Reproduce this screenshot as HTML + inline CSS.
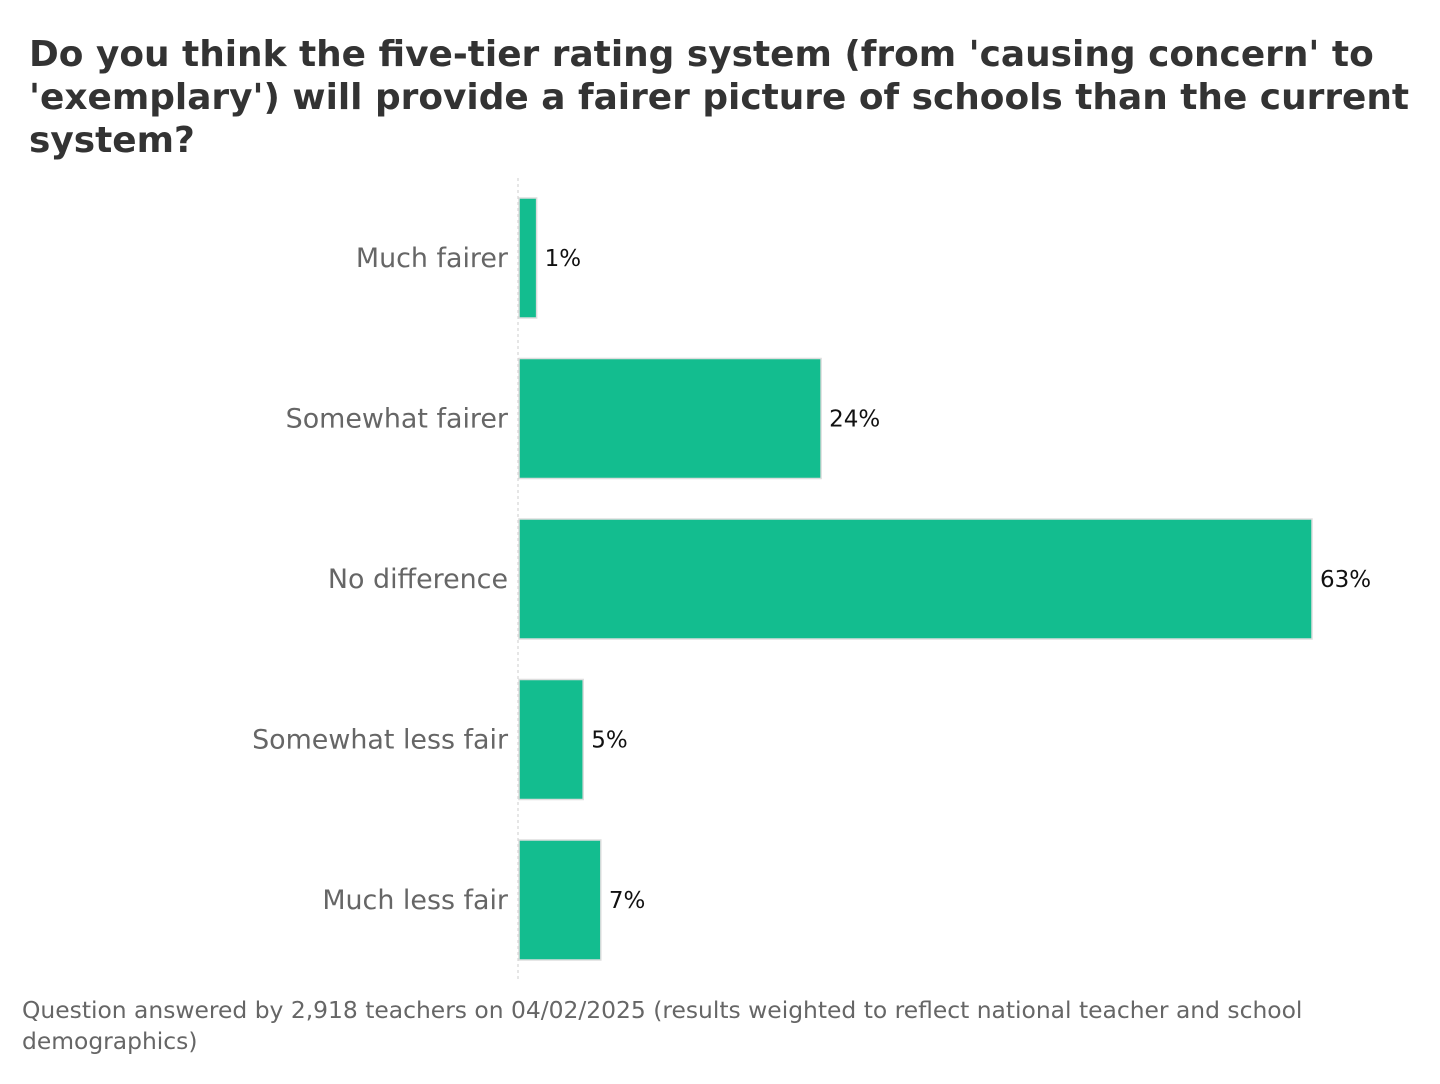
<!DOCTYPE html>
<html><head><meta charset="utf-8"><style>
body{margin:0;background:#fff;width:1440px;height:1080px;overflow:hidden;font-family:"DejaVu Sans","Liberation Sans",sans-serif}
</style></head><body>
<svg width="1440" height="1080">
<g font-weight="bold" font-size="35.9" fill="#333">
<text x="29" y="66">Do you think the five-tier rating system (from 'causing concern' to</text>
<text x="29" y="109">'exemplary') will provide a fairer picture of schools than the current</text>
<text x="29" y="152">system?</text>
</g>
<line x1="518" y1="178" x2="518" y2="980" stroke="#ccc" stroke-dasharray="3,3"/>
<g id="bars"></g>
<g font-size="23.4" fill="#666">
<text x="22" y="1018">Question answered by 2,918 teachers on 04/02/2025 (results weighted to reflect national teacher and school</text>
<text x="22" y="1049">demographics)</text>
</g>
</svg>
<script>
const categories=["Much fairer","Somewhat fairer","No difference","Somewhat less fair","Much less fair"];
const values=[1.4,24,63,5.1,6.5];
const valueLabels=["1%","24%","63%","5%","7%"];
const x0=519,scale=793/63,top0=198,pitch=160.5,bh=120;
const g=document.getElementById('bars');
const ns="http://www.w3.org/2000/svg";
categories.forEach((c,i)=>{
 const y=top0+i*pitch, w=values[i]*scale;
 const r=document.createElementNS(ns,'rect');
 r.setAttribute('x',x0);r.setAttribute('y',y);r.setAttribute('width',w);r.setAttribute('height',bh);
 r.setAttribute('fill','#13bd8f');r.setAttribute('stroke','#ddd');r.setAttribute('stroke-width','1.5');
 
 
 g.appendChild(r);
 const t=document.createElementNS(ns,'text');
 t.setAttribute('x',508);t.setAttribute('y',y+bh/2+9);t.setAttribute('text-anchor','end');
 t.setAttribute('font-size','26.9');t.setAttribute('fill','#666');t.textContent=c;
 
 
 g.appendChild(t);
 const v=document.createElementNS(ns,'text');
 v.setAttribute('x',x0+w+8);v.setAttribute('y',y+bh/2+8);
 v.setAttribute('font-size','23');v.setAttribute('fill','#111');v.textContent=valueLabels[i];
 
 
 g.appendChild(v);
});
</script>
</body></html>
